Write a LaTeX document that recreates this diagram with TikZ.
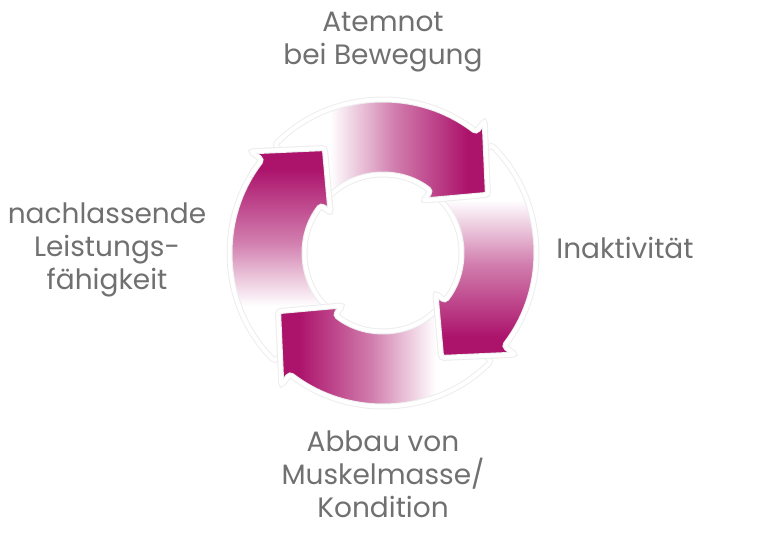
\documentclass[tikz,border=0pt]{standalone}
\usepackage{fontspec}
\setmainfont{Poppins}

\definecolor{ringmagenta}{RGB}{172,20,108}
\definecolor{labelgray}{RGB}{112,112,112}

\pgfdeclarehorizontalshading{ringfade}{100bp}{color(0bp)=(white); color(25bp)=(white); color(38bp)=(white); color(53bp)=(ringmagenta!55); color(70bp)=(ringmagenta); color(100bp)=(ringmagenta)}

\tikzset{
  cyclearrow/.style={draw=black!7, line width=0.5, double=white, double distance=2,
    rounded corners=1.5, shading=ringfade},
  steplabel/.style={text=labelgray, align=center, inner sep=0pt,
    font=\fontsize{14}{16.5}\selectfont},
}

% one arrow of the ring, turned by #1 degrees
\newcommand\ringarrow[1]{
  (135+#1:153) arc[start angle=135+#1, end angle=52.5+#1, radius=153]
  -- (52.5+#1:167) -- (29+#1:120) -- (52.5+#1:66) -- (52.5+#1:78)
  arc[start angle=52.5+#1, end angle=135+#1, radius=78] -- cycle
}

\begin{document}
\begin{tikzpicture}[x=0.5pt, y=0.5pt]
  \useasboundingbox (0,0) rectangle (768,536);

  \coordinate (c) at (383,283);

  \begin{scope}[shift={(c)}]
    \foreach \rot in {-270,-180,-90,0}
      \path[cyclearrow, shading angle=\rot] \ringarrow{\rot};

    % head of the left arrow lies over the tail of the top one
    \begin{scope}
      \clip (0,0) -- (112:185) arc[start angle=112, end angle=150, radius=185] -- cycle;
      \path[cyclearrow, shading angle=-270] \ringarrow{-270};
    \end{scope}
  \end{scope}

  \node[steplabel] (atemnot) at (383,494) {Atemnot\\bei Bewegung};
  \node[steplabel] (inaktivitaet) at (625,288) {Inaktivität};
  \node[steplabel] (abbau) at (383,62) {Abbau von\\Muskelmasse/\\Kondition};
  \node[steplabel] (leistung) at (107,286) {nachlassende\\Leistungs-\\fähigkeit};
\end{tikzpicture}
\end{document}
